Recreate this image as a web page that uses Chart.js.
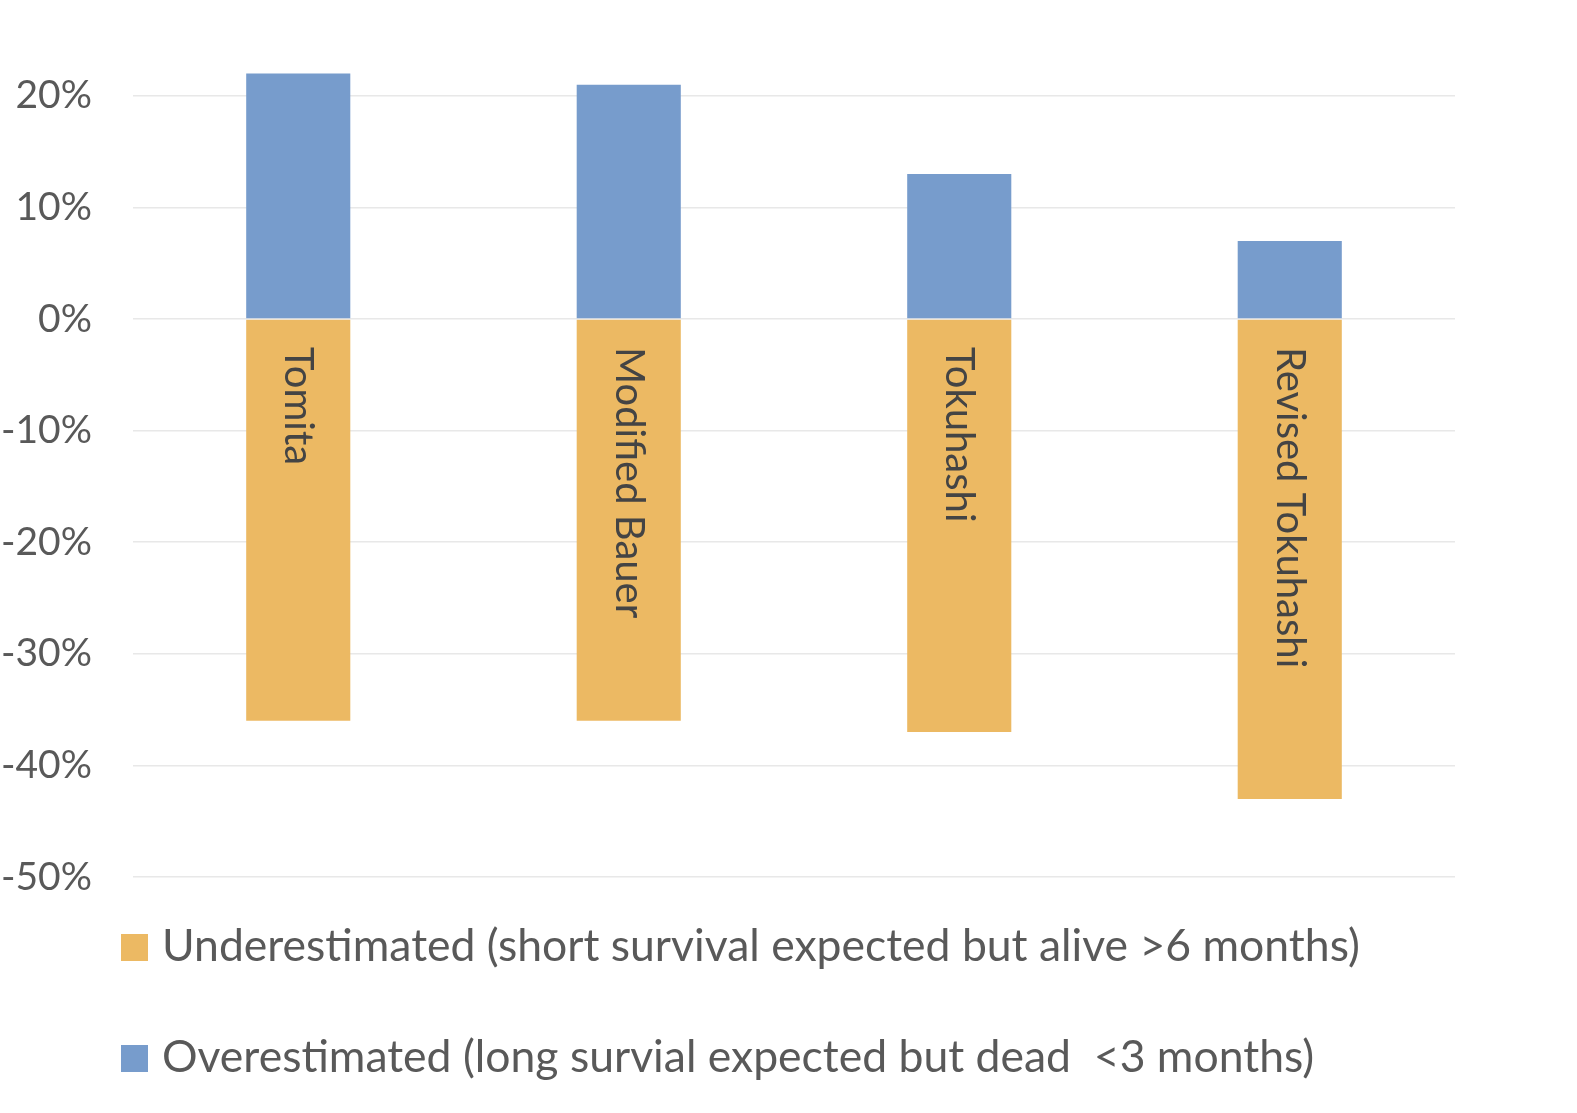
<!DOCTYPE html>
<html>
<head>
<meta charset="utf-8">
<script src="https://cdn.jsdelivr.net/npm/chart.js@4.4.1/dist/chart.umd.min.js"></script>
<style>
    body { margin: 0; background: #fff; }
    #wrap { width: 1577px; height: 1113px; position: relative; }
</style>
</head>
<body>
<div id="wrap"><canvas id="errChart"></canvas></div>
<script>
const categories = ['Tomita', 'Modified Bauer', 'Tokuhashi', 'Revised Tokuhashi'];
const underestimated = [-36, -36, -37, -43];
const overestimated = [22, 21, 13, 7];
const yTicks = [20, 10, 0, -10, -20, -30, -40, -50];

const labelUnder = 'Underestimated (short survival expected but alive >6 months)';
const labelOver = 'Overestimated (long survial expected but dead  <3 months)';

const FONT = 'Lato, "Open Sans", sans-serif';
const TEXT = '#595959';

// category names written down inside the orange bars
const barLabels = {
    id: 'barLabels',
    afterDatasetsDraw(chart) {
        const ctx = chart.ctx;
        const meta = chart.getDatasetMeta(0);
        const zeroY = chart.scales.y.getPixelForValue(0);
        ctx.save();
        ctx.font = '40px ' + FONT;
        ctx.fillStyle = '#444444';
        ctx.textAlign = 'left';
        ctx.textBaseline = 'middle';
        meta.data.forEach((bar, i) => {
            ctx.save();
            ctx.translate(bar.x, zeroY + 28);
            ctx.rotate(Math.PI / 2);
            ctx.fillText(chart.data.labels[i], 0, 0);
            ctx.restore();
        });
        ctx.restore();
    }
};

// legend stacked at bottom left
const bottomLegend = {
    id: 'bottomLegend',
    afterDraw(chart) {
        const ctx = chart.ctx;
        const rows = [947, 1058];
        ctx.save();
        ctx.font = '44.5px ' + FONT;
        ctx.textAlign = 'left';
        ctx.textBaseline = 'middle';
        chart.data.datasets.forEach((ds, i) => {
            const y = rows[i];
            ctx.fillStyle = ds.backgroundColor;
            ctx.fillRect(121, y - 13, 27, 27);
            ctx.fillStyle = TEXT;
            ctx.fillText(ds.label, 162, y);
        });
        ctx.restore();
    }
};

new Chart(document.getElementById('errChart').getContext('2d'), {
    type: 'bar',
    data: {
        labels: categories,
        datasets: [
            {
                label: labelUnder,
                data: underestimated,
                backgroundColor: '#ecb963',
                categoryPercentage: 1,
                barPercentage: 0.315
            },
            {
                label: labelOver,
                data: overestimated,
                backgroundColor: '#779ccc',
                categoryPercentage: 1,
                barPercentage: 0.315
            }
        ]
    },
    options: {
        responsive: true,
        maintainAspectRatio: false,
        animation: false,
        layout: {
            padding: { left: 0, right: 122, top: 40, bottom: 236 }
        },
        plugins: {
            legend: { display: false },
            tooltip: { enabled: false }
        },
        scales: {
            x: {
                stacked: true,
                display: false
            },
            y: {
                stacked: true,
                min: -50,
                max: 25,
                afterBuildTicks: (scale) => {
                    scale.ticks = yTicks.slice().reverse().map(v => ({ value: v }));
                },
                afterFit: (scale) => {
                    scale.width = 133;
                    // tick padding is only meant horizontally here
                    scale.paddingTop = 0;
                    scale.paddingBottom = 0;
                },
                border: { display: false },
                grid: {
                    color: '#e8e8e8',
                    lineWidth: 1.5,
                    drawTicks: false
                },
                ticks: {
                    padding: 41,
                    color: TEXT,
                    font: { family: FONT, size: 39 },
                    callback: (v) => v + '%'
                }
            }
        }
    },
    plugins: [barLabels, bottomLegend]
});
</script>
</body>
</html>
